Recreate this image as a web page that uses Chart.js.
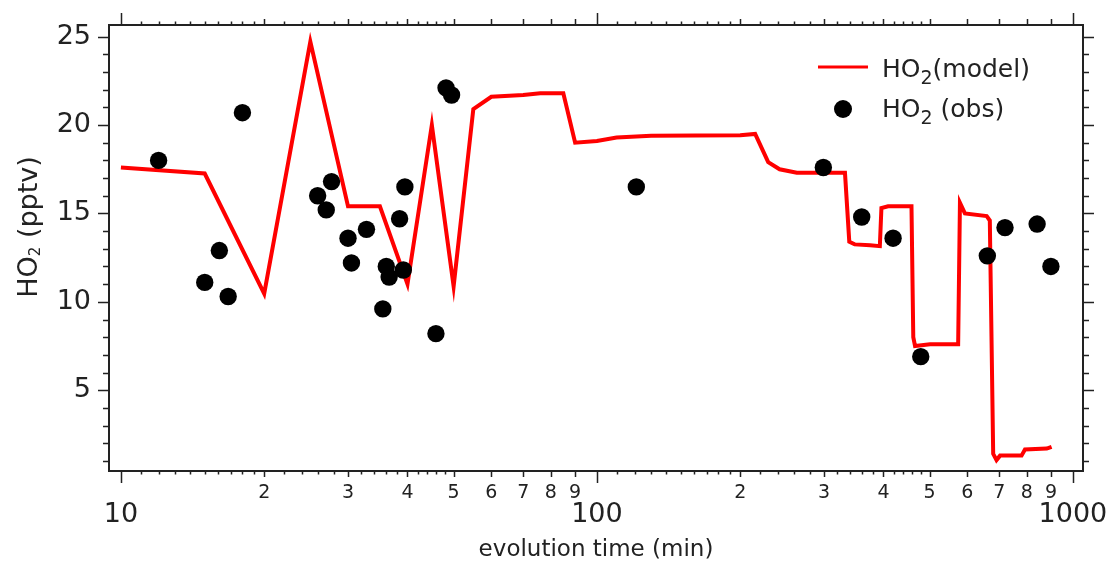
<!DOCTYPE html>
<html>
<head>
<meta charset="utf-8">
<script src="https://cdn.jsdelivr.net/npm/chart.js@4.4.1/dist/chart.umd.min.js"></script>
<style>
  html, body { margin: 0; padding: 0; background: #fff; }
  #wrap { width: 1115px; height: 565px; }
</style>
</head>
<body>
<div id="wrap"><canvas id="ho2-chart"></canvas></div>
<script>
// observed HO2 (pptv) against evolution time (min)
const obsTime = [12.0, 15.0, 16.1, 16.8, 18.0, 25.9, 27.0, 27.7, 30.0, 30.5, 32.8, 35.5, 36.1, 36.6, 38.5, 39.2, 39.5, 45.9, 48.2, 49.5,
    121, 299, 360, 419, 479, 661, 720, 841, 899];
const obsHO2 = [18.0, 11.1, 12.9, 10.3, 20.7, 16.0, 15.2, 16.8, 13.6, 12.2, 14.1, 9.6, 12.0, 11.4, 14.7, 11.8, 16.5, 8.2, 22.1, 21.7,
    16.5, 17.6, 14.8, 13.6, 6.9, 12.6, 14.2, 14.4, 12.0];

// modelled HO2
const modelTime = [10, 15, 20, 25, 30, 35, 40, 45, 50, 55, 60, 70, 76, 85, 90, 100, 110, 130, 200, 215, 229, 242, 263,
    332, 339, 348, 375, 393, 396, 409, 458, 462, 466, 501, 574, 579, 593, 659, 669, 680, 691, 703, 780, 793, 881, 902];
const modelHO2 = [17.6, 17.26, 10.46, 24.72, 15.4, 15.4, 11.0, 20.0, 10.88, 20.9, 21.6, 21.7, 21.8, 21.8, 19.0, 19.1, 19.3, 19.4, 19.43, 19.5, 17.9, 17.5, 17.3,
    17.3, 13.4, 13.25, 13.2, 13.15, 15.3, 15.4, 15.4, 8.0, 7.5, 7.6, 7.6, 15.6, 15.0, 14.85, 14.6, 1.4, 1.05, 1.3, 1.3, 1.65, 1.7, 1.8];

// tick marks
const xDecades = [10, 100, 1000];
const xLabeled = [20, 30, 40, 50, 60, 70, 80, 90, 200, 300, 400, 500, 600, 700, 800, 900];
const xMinor = [11, 12, 13, 14, 15, 16, 17, 18, 19, 22, 24, 26, 28, 32, 34, 36, 38, 42, 44, 46, 48,
    110, 120, 130, 140, 150, 160, 170, 180, 190, 220, 240, 260, 280, 320, 340, 360, 380, 420, 440, 460, 480];
const yMajor = [5, 10, 15, 20, 25];
const yMinor = [1, 2, 3, 4, 6, 7, 8, 9, 11, 12, 13, 14, 16, 17, 18, 19, 21, 22, 23, 24];

const FONT = "'DejaVu Sans', sans-serif";
const INK = '#222';

// draws e.g. "HO2(model)" with the digit as subscript
function drawChem(ctx, text, x, y, size, subSize, subDrop) {
    const m = text.match(/^(.*?[A-Z])(\d)(.*)$/);
    ctx.font = size + 'px ' + FONT;
    ctx.fillText(m[1], x, y);
    x += ctx.measureText(m[1]).width;
    ctx.font = subSize + 'px ' + FONT;
    ctx.fillText(m[2], x, y + subDrop);
    x += ctx.measureText(m[2]).width;
    ctx.font = size + 'px ' + FONT;
    ctx.fillText(m[3], x, y);
}

function chemWidth(ctx, text, size, subSize) {
    const m = text.match(/^(.*?[A-Z])(\d)(.*)$/);
    ctx.font = size + 'px ' + FONT;
    let w = ctx.measureText(m[1]).width + ctx.measureText(m[3]).width;
    ctx.font = subSize + 'px ' + FONT;
    return w + ctx.measureText(m[2]).width;
}

//FRAME AND TICKS ON ALL FOUR SIDES
const frameTicks = {
    id: 'frameTicks',
    afterDraw(chart) {
        const { ctx, chartArea: a, scales } = chart;
        ctx.save();
        ctx.strokeStyle = INK;
        ctx.lineWidth = 1.5;
        ctx.beginPath();
        const xTick = (v, len) => {
            const px = Math.round(scales.x.getPixelForValue(v)) + 0.5;
            ctx.moveTo(px, a.bottom); ctx.lineTo(px, a.bottom + len);
            ctx.moveTo(px, a.top); ctx.lineTo(px, a.top - len);
        };
        const yTick = (v, len) => {
            const py = Math.round(scales.y.getPixelForValue(v)) + 0.5;
            ctx.moveTo(a.left, py); ctx.lineTo(a.left - len, py);
            ctx.moveTo(a.right, py); ctx.lineTo(a.right + len, py);
        };
        xDecades.forEach(v => xTick(v, 12));
        xLabeled.forEach(v => xTick(v, 6));
        xMinor.forEach(v => xTick(v, 3.5));
        yMajor.forEach(v => yTick(v, 11));
        yMinor.forEach(v => yTick(v, 6));
        ctx.stroke();
        ctx.lineWidth = 2;
        ctx.strokeRect(a.left, a.top, a.right - a.left, a.bottom - a.top);

        // y axis title
        ctx.fillStyle = INK;
        ctx.textBaseline = 'alphabetic';
        const yTitle = 'HO2 (pptv)';
        const w = chemWidth(ctx, yTitle, 27, 15);
        ctx.translate(37, 227 + w / 2);
        ctx.rotate(-Math.PI / 2);
        drawChem(ctx, yTitle, 0, 0, 27, 15, 3);
        ctx.restore();
    }
};

//LEGEND INSIDE THE PLOT
const insideLegend = {
    id: 'insideLegend',
    afterDraw(chart) {
        const ctx = chart.ctx;
        const sets = chart.data.datasets;
        ctx.save();
        // model line
        ctx.strokeStyle = sets[0].borderColor;
        ctx.lineWidth = 3;
        ctx.beginPath();
        ctx.moveTo(818, 67); ctx.lineTo(868, 67);
        ctx.stroke();
        // obs dot
        ctx.fillStyle = sets[1].pointBackgroundColor;
        ctx.beginPath();
        ctx.arc(843, 109, 9, 0, Math.PI * 2);
        ctx.fill();
        ctx.fillStyle = INK;
        ctx.textBaseline = 'alphabetic';
        drawChem(ctx, sets[0].label, 882, 77, 25, 19, 7);
        drawChem(ctx, sets[1].label, 882, 117, 25, 19, 7);
        ctx.restore();
    }
};

const HO2Chart = document.getElementById('ho2-chart');

new Chart(HO2Chart, {
    type: 'scatter',
    data: {
        datasets: [{
            label: 'HO2(model)',
            data: modelTime.map((t, i) => ({ x: t, y: modelHO2[i] })),
            showLine: true,
            borderColor: '#ff0000',
            borderWidth: 4,
            borderJoinStyle: 'miter',
            pointRadius: 0,
            tension: 0,
            order: 2
        }, {
            label: 'HO2 (obs)',
            data: obsTime.map((t, i) => ({ x: t, y: obsHO2[i] })),
            showLine: false,
            pointRadius: 8.7,
            pointBorderWidth: 0,
            pointBackgroundColor: '#000',
            pointBorderColor: '#000',
            order: 1
        }]
    },
    options: {
        responsive: true,
        maintainAspectRatio: false,
        animation: false,
        events: [],
        layout: { padding: { top: 25, right: 32, left: 0, bottom: 0 } },
        plugins: {
            legend: { display: false },
            tooltip: { enabled: false }
        },
        scales: {
            x: {
                type: 'logarithmic',
                min: 9.44,
                max: 1050,
                // tick marks are drawn by frameTicks, tickLength only sets label offset
                grid: { display: false, drawTicks: true, tickLength: 13 },
                border: { display: false },
                afterBuildTicks: function (scale) {
                    scale.ticks = xDecades.concat(xLabeled, xMinor).sort((p, q) => p - q).map(v => ({ value: v }));
                },
                afterFit: function (scale) { scale.height = 94; },
                ticks: {
                    autoSkip: false,
                    maxRotation: 0,
                    minRotation: 0,
                    padding: 0,
                    color: INK,
                    font: function (context) {
                        if (context.tick && xDecades.includes(context.tick.value)) {
                            return { family: FONT, size: 27, lineHeight: '20.5px' };
                        }
                        return { family: FONT, size: 19, lineHeight: '19px' };
                    },
                    callback: function (value) {
                        if (xDecades.includes(value)) return ['', String(value)];
                        if (xLabeled.includes(value)) return String(value / Math.pow(10, Math.floor(Math.log10(value) + 1e-9)));
                        return '';
                    }
                },
                title: {
                    display: true,
                    text: 'evolution time (min)',
                    color: INK,
                    font: { family: FONT, size: 23 },
                    padding: { top: 0, bottom: 1 }
                }
            },
            y: {
                type: 'linear',
                min: 0.43,
                max: 25.66,
                grid: { display: false, drawTicks: true, tickLength: 18 },
                border: { display: false },
                afterBuildTicks: function (scale) {
                    scale.ticks = yMajor.concat(yMinor).sort((p, q) => p - q).map(v => ({ value: v }));
                },
                afterFit: function (scale) { scale.width = 109; },
                ticks: {
                    autoSkip: false,
                    padding: 0,
                    color: INK,
                    font: { family: FONT, size: 27 },
                    callback: function (value) {
                        return yMajor.includes(value) ? String(value) : '';
                    }
                }
            }
        }
    },
    plugins: [frameTicks, insideLegend]
});
</script>
</body>
</html>
